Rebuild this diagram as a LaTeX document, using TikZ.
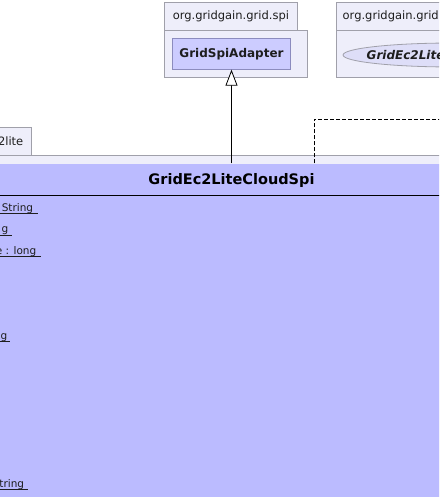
\documentclass[tikz,border=0pt]{standalone}
\usepackage{fontspec}
\setmainfont{DejaVu Sans}
\usetikzlibrary{arrows.meta,shapes.geometric}
\definecolor{pkgfill}{RGB}{238,238,250}
\definecolor{pkgline}{RGB}{160,160,170}
\definecolor{clsfill}{RGB}{204,204,255}
\definecolor{clsline}{RGB}{140,140,190}
\definecolor{bigfill}{RGB}{187,187,255}
\definecolor{ifill}{RGB}{222,222,248}
\definecolor{txt}{RGB}{30,30,30}
\tikzset{
  pkgbox/.style={draw=pkgline, fill=pkgfill, line width=0.8pt, inner sep=0pt},
  pkgtext/.style={font=\fontsize{11.5}{13}\selectfont, text=txt, inner sep=0pt},
  smallcls/.style={draw=clsline, fill=clsfill, line width=0.8pt, inner sep=0pt,
    font=\fontsize{12}{14}\selectfont\bfseries, text=txt},
  iface/.style={ellipse, draw=pkgline, fill=ifill, line width=0.8pt, inner sep=0pt},
  attr/.style={font=\fontsize{10.5}{12}\selectfont, text=txt, inner sep=0pt, anchor=base east},
  uline/.style={line width=0.7pt, txt},
  gen/.style={line width=0.8pt, -{Triangle[open, length=16pt, width=12pt, fill=white]}},
  realize/.style={line width=0.8pt, dash pattern=on 4pt off 2pt},
}
\begin{document}
\begin{tikzpicture}[x=1pt, y=-1pt]
\useasboundingbox (0,0) rectangle (439,497);
\clip (0,0) rectangle (439,497);
% package org.gridgain.grid.spi
\node[pkgbox, anchor=north west, minimum width=142.5pt, minimum height=47pt] (pkgAbody) at (164,30) {};
\node[pkgbox, anchor=north west, minimum width=133pt, minimum height=28pt] (pkgAtab) at (164,2) {};
\node[pkgtext] (pkgAlabel) at (pkgAtab.center) {org.gridgain.grid.spi};
\node[smallcls, minimum width=118.5pt, minimum height=31pt] (adapter) at (231.5,53.8) {GridSpiAdapter};
% package on the right
\node[pkgbox, anchor=north west, minimum width=120pt, minimum height=47pt] (pkgBbody) at (336,30) {};
\node[pkgbox, anchor=north west, minimum width=120pt, minimum height=28pt] (pkgBtab) at (336,2) {};
\node[pkgtext, anchor=west] (pkgBlabel) at (342.5,16) {org.gridgain.grid};
\node[iface, minimum width=220pt, minimum height=24pt] (mbean) at (453,55) {};
\node[font=\fontsize{12}{14}\selectfont\bfseries\itshape, text=txt, inner sep=0pt, anchor=west] (mbeanlabel) at (366.5,55) {GridEc2Lite};
% package on the left
\node[pkgbox, anchor=north west, minimum width=460pt, minimum height=360pt] (pkgCbody) at (-10,155) {};
\node[pkgbox, anchor=north east, minimum width=60pt, minimum height=28pt] (pkgCtab) at (32,127) {};
\node[pkgtext, anchor=east] (pkgClabel) at (23.5,141) {2lite};
% main class
\node[fill=bigfill, anchor=north west, minimum width=460pt, minimum height=350pt, inner sep=0pt] (cloudspi) at (-10,163.3) {};
\node[font=\fontsize{14.5}{16}\selectfont\bfseries, text=black, inner sep=0pt] (title) at (231.5,180) {GridEc2LiteCloudSpi};
\draw[line width=0.9pt] (-10,195.5) -- (450,195.5);
% attributes
\node[attr] (a1) at (33.3,211.5) {String};
\node[attr] (a2) at (8.5,232.8) {g};
\node[attr] (a3) at (36.5,254.1) {e : long};
\node[attr] (a7) at (7.5,339.4) {g};
\node[attr] (a14) at (24.3,487.4) {tring};
\draw[uline] (-2,213.6) -- (38.3,213.6);
\draw[uline] (-2,234.9) -- (11.5,234.9);
\draw[uline] (-2,256.2) -- (41,256.2);
\draw[uline] (-2,341.5) -- (10.3,341.5);
\draw[uline] (-2,489.4) -- (28.3,489.4);
% connectors
\draw[gen] (cloudspi.north -| adapter.south) -- (adapter.south);
\coordinate (realEnd) at (445,119.3);
\draw[realize] (314.3,163.3) coordinate (realStart) |- (realEnd);
\end{tikzpicture}
\end{document}
